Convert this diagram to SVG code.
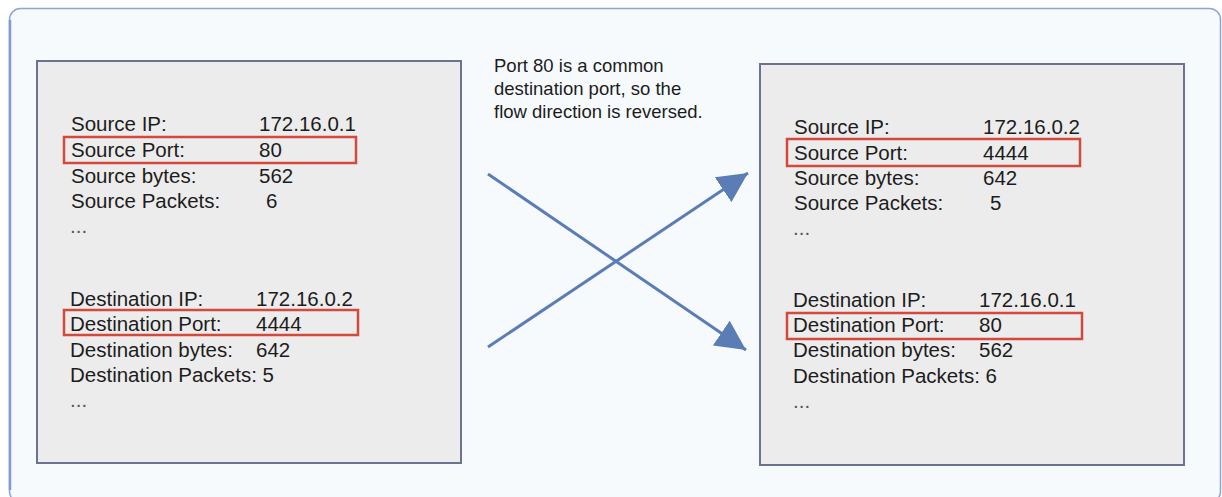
<svg xmlns="http://www.w3.org/2000/svg" width="1222" height="497" viewBox="0 0 1222 497">
  <style>
    .frame { fill: #f7fafd; stroke: #8ba5d4; stroke-width: 1.5; }
    .box { fill: #ececec; stroke: #6b7391; stroke-width: 2; }
    .hl { fill: none; stroke: #d24a3c; stroke-width: 2.5; }
    .t { font-family: "Liberation Sans", Arial, sans-serif; font-size: 20.5px; fill: #1c1c1c; }
    .more { fill: #555555; }
    .note { font-family: "Liberation Sans", Arial, sans-serif; font-size: 18.5px; fill: #1c1c1c; }
    .flow { stroke: #5b7db6; stroke-width: 3; fill: none; marker-end: url(#head); }
  </style>
  <defs>
    <marker id="head" viewBox="0 0 30 30" refX="30" refY="15" markerWidth="30" markerHeight="30" markerUnits="userSpaceOnUse" orient="auto">
      <path d="M0,0 L30,15 L0,30 Z" fill="#5b7db6"/>
    </marker>
  </defs>

  <rect width="1222" height="497" fill="#ffffff"/>
  <!-- outer panel -->
  <rect class="frame" x="9.5" y="8.5" width="1211" height="494" rx="11"/>
  <line x1="10" y1="20" x2="10" y2="490" stroke="#7f9bd0" stroke-width="2.5"/>

  <!-- flow as seen -->
  <g id="flow-original">
    <rect class="box" x="37" y="61" width="424" height="402"/>
    <text class="t" x="71" y="131">Source IP:</text>
    <text class="t" x="259" y="131">172.16.0.1</text>
    <rect class="hl" x="64" y="137" width="292" height="26"/>
    <text class="t" x="71" y="157">Source Port:</text>
    <text class="t" x="259" y="157">80</text>
    <text class="t" x="71" y="183">Source bytes:</text>
    <text class="t" x="259" y="183">562</text>
    <text class="t" x="71" y="208">Source Packets:</text>
    <text class="t" x="266" y="208">6</text>
    <text class="t more" x="70" y="233">...</text>

    <text class="t" x="70" y="306">Destination IP:</text>
    <text class="t" x="256" y="306">172.16.0.2</text>
    <rect class="hl" x="64" y="310" width="294" height="25"/>
    <text class="t" x="70" y="331">Destination Port:</text>
    <text class="t" x="256" y="331">4444</text>
    <text class="t" x="70" y="357">Destination bytes:</text>
    <text class="t" x="256" y="357">642</text>
    <text class="t" x="70" y="382">Destination Packets: 5</text>
    <text class="t more" x="70" y="407">...</text>
  </g>

  <!-- explanation -->
  <g id="note">
    <text class="note" x="494" y="72">Port 80 is a common</text>
    <text class="note" x="494" y="95">destination port, so the</text>
    <text class="note" x="494" y="118">flow direction is reversed.</text>
  </g>

  <!-- flow after reversal -->
  <g id="flow-reversed">
    <rect class="box" x="760" y="64" width="424" height="401"/>
    <text class="t" x="794" y="134">Source IP:</text>
    <text class="t" x="983" y="134">172.16.0.2</text>
    <rect class="hl" x="787" y="139" width="293" height="27"/>
    <text class="t" x="794" y="160">Source Port:</text>
    <text class="t" x="983" y="160">4444</text>
    <text class="t" x="794" y="185">Source bytes:</text>
    <text class="t" x="983" y="185">642</text>
    <text class="t" x="794" y="210">Source Packets:</text>
    <text class="t" x="990" y="210">5</text>
    <text class="t more" x="793" y="235">...</text>

    <text class="t" x="793" y="307">Destination IP:</text>
    <text class="t" x="979" y="307">172.16.0.1</text>
    <rect class="hl" x="787" y="313" width="295" height="26"/>
    <text class="t" x="793" y="332">Destination Port:</text>
    <text class="t" x="979" y="332">80</text>
    <text class="t" x="793" y="357">Destination bytes:</text>
    <text class="t" x="979" y="357">562</text>
    <text class="t" x="793" y="383">Destination Packets: 6</text>
    <text class="t more" x="793" y="408">...</text>
  </g>

  <!-- swap arrows -->
  <g id="connectors">
    <line class="flow" x1="488" y1="174" x2="746" y2="350"/>
    <line class="flow" x1="488" y1="347" x2="748" y2="173"/>
  </g>
</svg>
